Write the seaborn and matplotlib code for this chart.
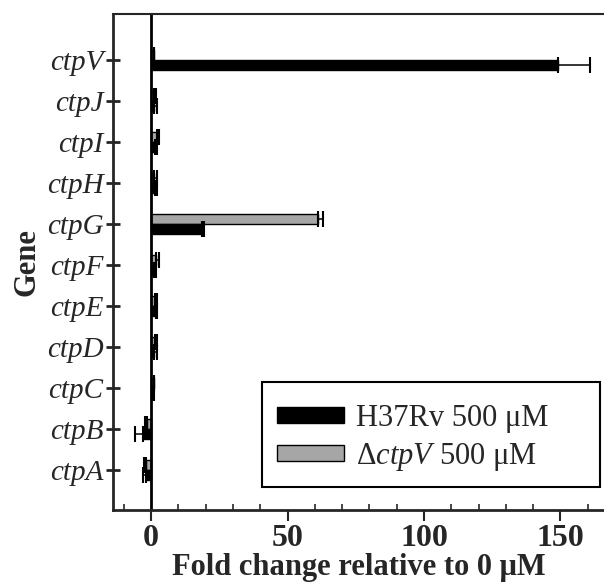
import numpy as np
import pandas as pd
import matplotlib
matplotlib.use("Agg")
import matplotlib.pyplot as plt
from matplotlib.patches import Rectangle
import seaborn as sns

# Datos
genes = ["ctpV", "ctpJ", "ctpI", "ctpH", "ctpG", "ctpF", "ctpE", "ctpD", "ctpC", "ctpB", "ctpA"]
h37rv = [149.0, 1.2, 1.3, 1.3, 18.5, 1.0, 1.6, 1.2, 0.8, -3.0, -2.0]
h37rv_err = [12.0, 0.8, 0.8, 0.8, 0.7, 0.8, 0.7, 0.8, 0.3, 3.0, 1.0]
delta = [0.9, 1.0, 2.0, 1.2, 61.3, 1.7, 1.5, 1.4, 0.9, -1.5, -2.0]
delta_err = [0.3, 0.8, 1.0, 0.8, 1.8, 1.0, 0.7, 0.6, 0.3, 0.8, 0.7]

lab_h = "H37Rv 500 μM"
lab_d = "Δ$\\mathit{ctpV}$ 500 μM"

df = pd.DataFrame({
    "gene": genes * 2,
    "fold": delta + h37rv,
    "err": delta_err + h37rv_err,
    "strain": [lab_d] * len(genes) + [lab_h] * len(genes),
})

sns.set_style("ticks")
plt.rcParams["font.family"] = ["Liberation Serif", "DejaVu Serif"]
plt.rcParams["mathtext.fontset"] = "custom"
plt.rcParams["mathtext.it"] = "Liberation Serif:italic"
plt.rcParams["mathtext.rm"] = "Liberation Serif"

fig = plt.figure(figsize=(6.04, 5.83), dpi=100)
ax = fig.add_axes([113 / 604, 73 / 583, 491 / 604, 496 / 583])

sns.barplot(data=df, x="fold", y="gene", hue="strain", order=genes,
            hue_order=[lab_d, lab_h], palette=["#a6a6a6", "black"],
            orient="h", width=0.5, edgecolor="black", linewidth=1,
            errorbar=None, ax=ax)

# barras de error hacia el lado de la barra
errs = {lab_d: delta_err, lab_h: h37rv_err}
for cont, lab in zip(ax.containers, [lab_d, lab_h]):
    for bar, e in zip(cont, errs[lab]):
        w = bar.get_width()
        yc = bar.get_y() + bar.get_height() / 2
        xerr = [[0], [e]] if w >= 0 else [[e], [0]]
        ax.errorbar(w, yc, xerr=xerr, fmt="none", ecolor="black",
                    elinewidth=1.1, capsize=6, capthick=1.5)

ax.axvline(0, color="black", lw=2)
ax.set_xlim(-14, 166)
ax.set_ylim(len(genes) - 0.02, -1.12)
ax.set_xticks([0, 50, 100, 150])
ax.set_xticks(np.arange(-10, 170, 10), minor=True)
ax.tick_params(axis="x", which="major", direction="out", length=8, width=1.5,
               labelsize=23, pad=2)
ax.tick_params(axis="x", which="minor", direction="in", length=4, width=1.2)
ax.tick_params(axis="y", direction="inout", length=10, width=2, labelsize=21, pad=2)
for t in ax.get_xticklabels():
    t.set_fontweight("bold")
for t in ax.get_yticklabels():
    t.set_fontstyle("italic")

ax.set_xlabel("Fold change relative to 0 μM", fontsize=22, fontweight="bold", labelpad=0)
ax.set_ylabel("Gene", fontsize=22, fontweight="bold", labelpad=4)

for s in ["left", "bottom"]:
    ax.spines[s].set_linewidth(2)
ax.spines["top"].set_linewidth(1.5)
ax.spines["right"].set_visible(False)

# leyenda sin marco + recuadro propio (más ancho, estilo GraphPad)
handles, labels = ax.get_legend_handles_labels()
leg = ax.legend(handles[::-1], labels[::-1], loc="upper left",
                bbox_to_anchor=(0.334, 0.214), borderaxespad=0, borderpad=0,
                fontsize=22, frameon=False, handlelength=2.2,
                handleheight=0.45, labelspacing=0.27, handletextpad=0.4)
ax.add_patch(Rectangle((0.3035, 0.0464), 0.6885, 0.2116, transform=ax.transAxes,
                       fill=False, edgecolor="black", lw=1.5, zorder=5))

fig.savefig("out.png", dpi=100)
